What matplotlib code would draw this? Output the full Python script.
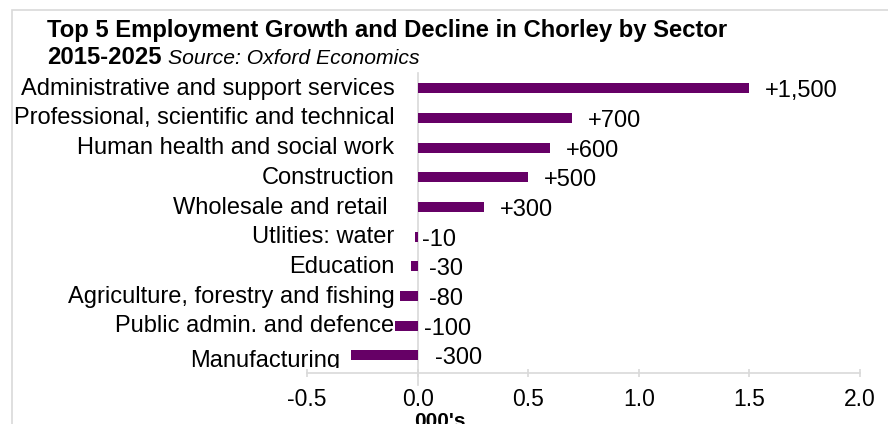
import matplotlib
matplotlib.use("Agg")
import matplotlib.pyplot as plt
from matplotlib.patches import Rectangle
from matplotlib.transforms import Bbox, TransformedBbox

# Change in employment 2015-2025, thousands of jobs
sectors = [
    "Administrative and support services",
    "Professional, scientific and technical",
    "Human health and social work",
    "Construction",
    "Wholesale and retail ",
    "Utlities: water",
    "Education",
    "Agriculture, forestry and fishing",
    "Public admin. and defence",
    "Manufacturing",
]
change = [1.5, 0.7, 0.6, 0.5, 0.3, -0.01, -0.03, -0.08, -0.1, -0.3]
value_labels = ["+1,500", "+700", "+600", "+500", "+300",
                "-10", "-30", "-80", "-100", "-300"]
xticks = [-0.5, 0.0, 0.5, 1.0, 1.5, 2.0]

plt.rcParams["font.family"] = ["Liberation Sans", "DejaVu Sans"]
bar_color = "#660066"
grey = "#d9d9d9"

fig = plt.figure(figsize=(8.88, 4.24), dpi=100)
ax = fig.add_axes([0.3457, 0.120, 0.6228, 0.707])

rows = list(range(len(sectors)))
ax.barh(rows, change, height=0.34, color=bar_color)
ax.set_xlim(-0.5, 2.0)
ax.set_ylim(9.6, -0.5)

for side in ["top", "right", "left"]:
    ax.spines[side].set_visible(False)
ax.spines["bottom"].set_color(grey)
ax.spines["bottom"].set_linewidth(1.2)
ax.set_yticks([])
ax.set_xticks(xticks)
ax.set_xticklabels(["%.1f" % t for t in xticks], fontsize=16.5)
ax.tick_params(axis="x", direction="inout", length=6, color=grey, width=1.2, pad=8)

# zero line
ax.plot([0, 0], [-0.5, 10.0], color=grey, lw=1.2, clip_on=False, zorder=0)

# category names, right aligned just left of the zero line;
# the last one gets cut off along the top of the axis area
name_clip = TransformedBbox(Bbox([[0, (424 - 368) / 424], [1, 1]]), fig.transFigure)
for i, name in enumerate(sectors):
    if name == "Manufacturing":
        t = ax.text(-0.35, i + 0.18, name, ha="right", va="center", fontsize=17,
                    clip_on=True)
        t.set_clip_path(None)
        t.set_clip_box(name_clip)
    else:
        ax.text(-0.105, i + 0.02, name, ha="right", va="center", fontsize=17,
                clip_on=False)

# value labels
nudge = {"-10": 0.02, "-30": 0.05, "-80": 0.05, "-100": 0.03, "-300": 0.08}
for i, (v, lab) in enumerate(zip(change, value_labels)):
    x = v + 0.07 if v > 0 else nudge[lab]
    ax.text(x, i + 0.1, lab, ha="left", va="center", fontsize=17)

fig.text(440 / 888, 1 - 412 / 424, "000's", fontsize=15, fontweight="bold",
         ha="center", va="top")

# title lines
fig.text(47 / 888, 1 - 30 / 424, "Top 5 Employment Growth and Decline in Chorley by Sector",
         fontsize=17.2, fontweight="bold", va="center", ha="left")
t1 = fig.text(47 / 888, 1 - 58 / 424, "2015-2025", fontsize=17.2, fontweight="bold",
              va="center", ha="left")
fig.canvas.draw()
bb = t1.get_window_extent()
fig.text((bb.x1 + 6) / 888, 1 - 58 / 424, "Source: Oxford Economics",
         fontsize=15.2, style="italic", va="center", ha="left")

# chart area border
fig.patches.append(Rectangle((12 / 888, -0.5), 1.5, 1.5 - 10 / 424,
                             transform=fig.transFigure, fill=False,
                             edgecolor=grey, lw=1.2))

fig.savefig("out.png", dpi=100)
